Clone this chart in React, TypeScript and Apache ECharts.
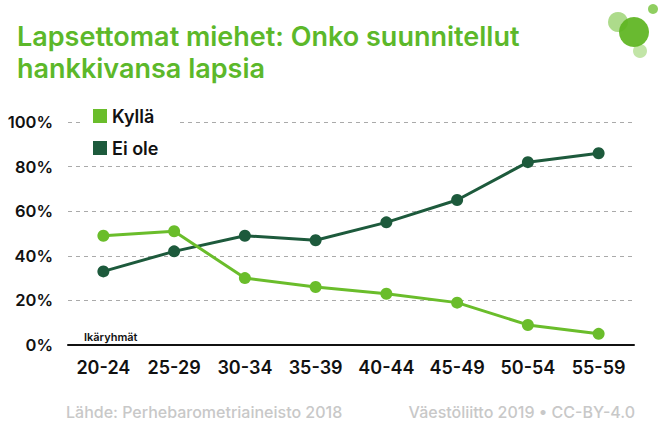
import React, { useEffect, useRef } from "react";
import * as echarts from "echarts";

const categories = ["20-24", "25-29", "30-34", "35-39", "40-44", "45-49", "50-54", "55-59"];
const kylla = [49, 51, 30, 26, 23, 19, 9, 5];
const eiOle = [33, 42, 49, 47, 55, 65, 82, 86];
const yTicks = [0, 20, 40, 60, 80, 100];

const LIGHT = "#6abd2b";
const DARK = "#1d5a3c";
const FONT = "Inter, 'Noto Sans', sans-serif";

export default function App() {
  const ref = useRef<HTMLDivElement>(null);
  useEffect(() => {
    const chart = echarts.init(ref.current!, null, { renderer: "svg" });
    chart.setOption({
      animation: false,
      backgroundColor: "#ffffff",
      textStyle: { fontFamily: FONT },
      title: {
        text: "Lapsettomat miehet: Onko suunnitellut\nhankkivansa lapsia",
        left: 12,
        top: 15,
        textStyle: {
          color: "#5cb82a",
          fontSize: 27,
          fontWeight: 600,
          lineHeight: 32,
          fontFamily: FONT,
        },
      },
      legend: {
        orient: "vertical",
        left: 80,
        top: 103,
        itemWidth: 14,
        itemHeight: 14,
        itemGap: 14,
        icon: "rect",
        backgroundColor: "#ffffff",
        padding: [4, 20, 4, 13],
        textStyle: { fontSize: 18, fontWeight: 600, color: "#111", fontFamily: FONT, lineHeight: 18 },
        data: ["Kyllä", "Ei ole"],
      },
      grid: { left: 68, right: 28, top: 122, bottom: 95, containLabel: false },
      xAxis: {
        type: "category",
        data: categories,
        boundaryGap: true,
        axisLine: { lineStyle: { color: "#111", width: 2 } },
        axisTick: { show: false },
        axisLabel: { interval: 0, fontSize: 18, fontWeight: 600, color: "#111", margin: 13, fontFamily: FONT },
      },
      yAxis: {
        type: "value",
        min: yTicks[0],
        max: yTicks[yTicks.length - 1],
        interval: 20,
        axisLine: { show: false },
        axisTick: { show: false },
        axisLabel: {
          formatter: "{value}%",
          fontSize: 16.5,
          fontWeight: 600,
          color: "#111",
          margin: 15,
          fontFamily: FONT,
        },
        splitLine: { lineStyle: { color: "#aaaaaa", type: [4, 4], width: 1 } },
      },
      series: [
        {
          name: "Kyllä",
          type: "line",
          data: kylla,
          color: LIGHT,
          symbol: "circle",
          symbolSize: 12,
          lineStyle: { width: 3, color: LIGHT },
          itemStyle: { color: LIGHT },
          z: 3,
        },
        {
          name: "Ei ole",
          type: "line",
          data: eiOle,
          color: DARK,
          symbol: "circle",
          symbolSize: 12,
          lineStyle: { width: 3, color: DARK },
          itemStyle: { color: DARK },
          z: 2,
        },
      ],
      graphic: [
        { type: "circle", shape: { cx: 618, cy: 22, r: 10 }, style: { fill: "#6abd2b", opacity: 0.55 }, z: 10 },
        { type: "circle", shape: { cx: 634, cy: 32, r: 15 }, style: { fill: "#5cb41e", opacity: 0.92 }, z: 11 },
        { type: "circle", shape: { cx: 653, cy: 9, r: 5 }, style: { fill: "#6abd2b", opacity: 0.75 }, z: 10 },
        { type: "circle", shape: { cx: 640, cy: 51, r: 7 }, style: { fill: "#8fcf5f", opacity: 0.55 }, z: 10 },
        {
          type: "text",
          left: 84,
          top: 331,
          style: { text: "Ikäryhmät", fontSize: 11, fontWeight: 600, fill: "#111", fontFamily: FONT },
        },
        {
          type: "text",
          left: 66,
          top: 404,
          style: { text: "Lähde: Perhebarometriaineisto 2018", fontSize: 16, fontWeight: 500, fill: "#c8c8c8", fontFamily: FONT },
        },
        {
          type: "text",
          right: 27,
          top: 404,
          style: { text: "Väestöliitto 2019 • CC-BY-4.0", fontSize: 16, fontWeight: 500, fill: "#c8c8c8", fontFamily: FONT },
        },
      ],
    });
    return () => chart.dispose();
  }, []);
  return <div ref={ref} style={{ width: 662, height: 440, position: "absolute", left: 0, top: 0 }} />;
}
